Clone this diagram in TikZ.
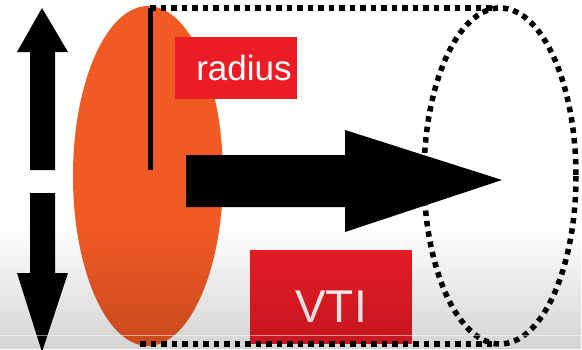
\documentclass[tikz,border=0pt]{standalone}
\usepackage{fontspec}
\setmainfont{Liberation Sans}
\usetikzlibrary{fadings}
\definecolor{discorange}{HTML}{F15A24}
\definecolor{labelred}{HTML}{EC1C26}
\tikzset{
  dotline/.style={line width=5.5pt, dash pattern=on 5.5pt off 5pt},
  labelbox/.style={fill=labelred, text=white, inner sep=0pt, font=\fontsize{35pt}{35pt}\selectfont},
  bigarrow/.style={fill=black},
}
\begin{document}
\begin{tikzpicture}[x=1pt,y=-1pt]
  \useasboundingbox (0,0) rectangle (582,349);
  \fill[white] (0,0) rectangle (582,349);

  % up / down double arrow on the left
  \fill[bigarrow] (30,170) -- (30,52) -- (17,52) -- (42,8) -- (68,52) -- (55,52) -- (55,170) -- cycle;
  \fill[bigarrow] (30,193) -- (30,273) -- (17,273) -- (42,352) -- (68,273) -- (55,273) -- (55,193) -- cycle;

  % orange disc
  \fill[discorange] (148,176) ellipse (75 and 170);

  % radius marker
  \draw[line width=5pt] (150,8) coordinate (rtop) -- (150,170) coordinate (rbot);

  % labels
  \node[labelbox, minimum width=122pt, minimum height=62pt] (radius) at (236,68) {\hspace{16pt}radius};
  \node[labelbox, minimum width=162pt, minimum height=94pt, font=\fontsize{46pt}{46pt}\selectfont] (vti) at (331,297) {\raisebox{-25pt}[0pt][0pt]{VTI}};

  % dotted cylinder outline
  \coordinate (ctop) at (497,8);
  \coordinate (cbot) at (492,344);
  \draw[dotline] (rtop) -- (ctop);
  \draw[dotline] (140,344) -- (cbot);
  \draw[dotline] (500,176) ellipse (76 and 168);

  % flow arrow
  \fill[bigarrow] (186,155) -- (345,155) -- (345,130) -- (502,180) -- (345,232) -- (345,207) -- (186,207) -- cycle;

  % soft grey band along the bottom
  \fill[black, path fading=north, fill opacity=0.17] (0,225) rectangle (582,349);
  \draw[white, opacity=0.5, line width=0.8pt] (0,335) -- (582,335);
\end{tikzpicture}
\end{document}
